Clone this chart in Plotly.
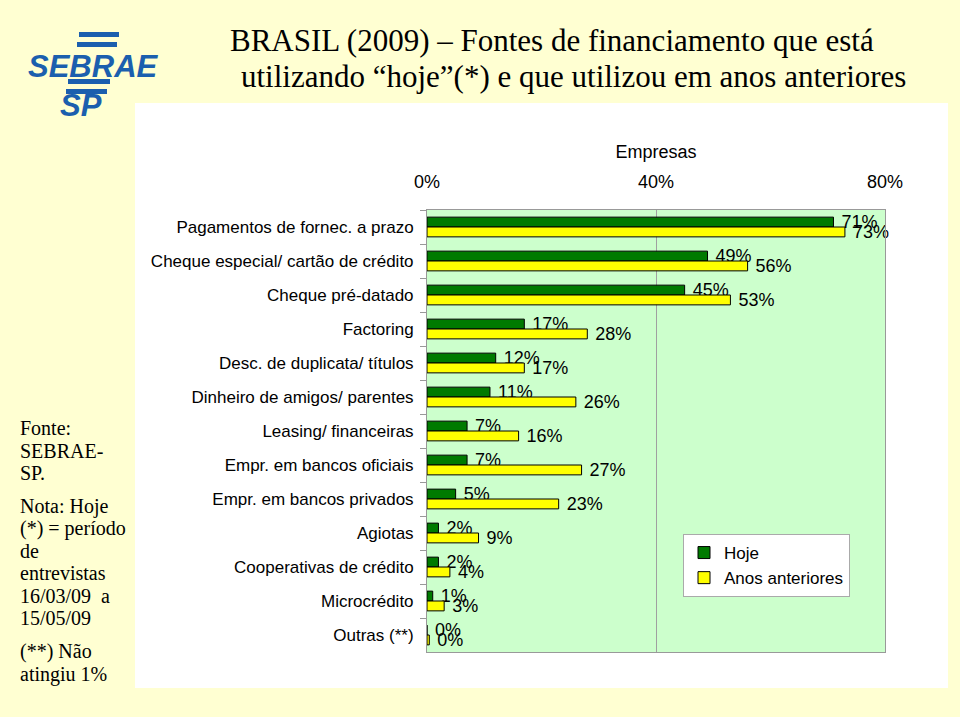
import plotly.graph_objects as go

categories = [
    "Pagamentos de fornec. a prazo",
    "Cheque especial/ cartão de crédito",
    "Cheque pré-datado",
    "Factoring",
    "Desc. de duplicata/ títulos",
    "Dinheiro de amigos/ parentes",
    "Leasing/ financeiras",
    "Empr. em bancos oficiais",
    "Empr. em bancos privados",
    "Agiotas",
    "Cooperativas de crédito",
    "Microcrédito",
    "Outras (**)",
]
hoje = [71, 49, 45, 17, 12, 11, 7, 7, 5, 2, 2, 1, 0]
anteriores = [73, 56, 53, 28, 17, 26, 16, 27, 23, 9, 4, 3, 0.4]
x_tickvals = [0, 40, 80]
x_ticktext = ["0%", "40%", "80%"]

title_lines = [
    "BRASIL (2009) – Fontes de financiamento que está",
    "utilizando “hoje”(*) e que utilizou em anos anteriores",
]
note_lines = [
    "Fonte:", "SEBRAE-", "SP.", "Nota: Hoje", "(*) = período", "de",
    "entrevistas", "16/03/09  a", "15/05/09", "(**) Não", "atingiu 1%",
]

W, H = 960, 717
L, R, T, B = 427, 885, 210, 652

def px(x):
    return (x - L) / (R - L)

def py(y):
    return (B - y) / (B - T)

SANS = "Liberation Sans, Arial, sans-serif"
SERIF = "Liberation Serif, Times New Roman, serif"
BLUE = "#1B5FAE"

fig = go.Figure()
fig.add_trace(go.Bar(
    name="Hoje", y=categories, x=hoje, orientation="h",
    marker=dict(color="#007A00", line=dict(color="#000000", width=1)),
    texttemplate=" %{x:.0f}%", textposition="outside", constraintext="none",
    cliponaxis=False, textfont=dict(family=SANS, size=18, color="#000000"),
))
fig.add_trace(go.Bar(
    name="Anos anteriores", y=categories, x=anteriores, orientation="h",
    marker=dict(color="#FFFF00", line=dict(color="#000000", width=1)),
    texttemplate=" %{x:.0f}%", textposition="outside", constraintext="none",
    cliponaxis=False, textfont=dict(family=SANS, size=18, color="#000000"),
))

shapes = [
    # white panel
    dict(type="rect", xref="paper", yref="paper", x0=px(135), x1=px(948),
         y0=py(688), y1=py(103), fillcolor="#FFFFFF", line=dict(width=0), layer="below"),
    # plot background
    dict(type="rect", xref="paper", yref="paper", x0=0, x1=1, y0=0, y1=1,
         fillcolor="#CCFFCC", line=dict(width=0), layer="below"),
    # logo stripes
    dict(type="rect", xref="paper", yref="paper", x0=px(79), x1=px(119),
         y0=py(37), y1=py(32), fillcolor=BLUE, line=dict(width=0)),
    dict(type="rect", xref="paper", yref="paper", x0=px(77), x1=px(117),
         y0=py(47), y1=py(42), fillcolor=BLUE, line=dict(width=0)),
    dict(type="rect", xref="paper", yref="paper", x0=px(68), x1=px(110),
         y0=py(84), y1=py(79), fillcolor=BLUE, line=dict(width=0)),
    dict(type="rect", xref="paper", yref="paper", x0=px(66), x1=px(107),
         y0=py(94), y1=py(89), fillcolor=BLUE, line=dict(width=0)),
]

annotations = []
title_cx = [552, 573]
for i, line in enumerate(title_lines):
    annotations.append(dict(
        text=line, xref="paper", yref="paper", x=px(title_cx[i]), y=py(40 + 37 * i),
        xanchor="center", yanchor="middle", showarrow=False,
        font=dict(family=SERIF, size=31, color="#000000")))
annotations.append(dict(
    text="<b><i>SEBRAE</i></b>", xref="paper", yref="paper", x=px(93), y=py(66),
    xanchor="center", yanchor="middle", showarrow=False,
    font=dict(family=SANS, size=31, color=BLUE)))
annotations.append(dict(
    text="<b><i>SP</i></b>", xref="paper", yref="paper", x=px(81), y=py(106),
    xanchor="center", yanchor="middle", showarrow=False,
    font=dict(family=SANS, size=31, color=BLUE)))
note_y = [428, 451, 473, 506, 528, 551, 573, 596, 618, 651, 674]
for line, yy in zip(note_lines, note_y):
    annotations.append(dict(
        text=line, xref="paper", yref="paper", x=px(18), y=py(yy),
        xanchor="left", yanchor="middle", showarrow=False,
        font=dict(family=SERIF, size=20, color="#000000")))

fig.update_layout(
    width=W, height=H,
    margin=dict(l=L, r=W - R, t=T, b=H - B, pad=0),
    paper_bgcolor="#FFFFD2",
    plot_bgcolor="rgba(0,0,0,0)",
    barmode="group", bargap=0.42, bargroupgap=0,
    showlegend=True,
    legend=dict(
        x=px(683), y=py(534), xanchor="left", yanchor="top",
        bgcolor="#FFFFFF", bordercolor="#AAAAAA", borderwidth=1,
        font=dict(family=SANS, size=17, color="#000000"),
        traceorder="normal", itemwidth=30,
    ),
    shapes=shapes,
    annotations=annotations,
    font=dict(family=SANS, size=16, color="#000000"),
)
fig.update_xaxes(
    side="top", range=[0, 80], tickvals=x_tickvals, ticktext=x_ticktext,
    tickfont=dict(family=SANS, size=18), showgrid=True, gridcolor="#A0A0A0",
    gridwidth=1, showline=True, linecolor="#999999", mirror=True,
    ticks="outside", ticklen=14, tickcolor="rgba(0,0,0,0)",
    title=dict(text="Empresas", font=dict(family=SANS, size=18), standoff=8),
    zeroline=False,
)
fig.update_yaxes(
    autorange="reversed", showline=True, linecolor="#999999", mirror=True,
    ticks="outside", tickson="boundaries", ticklen=6, tickcolor="#999999",
    tickfont=dict(family=SANS, size=17), showgrid=False, ticklabelstandoff=9,
)
fig.write_html(
    "out.html",
    config={"displayModeBar": False},
    post_script="document.body.style.margin='0';document.body.style.background='#FFFFD2';",
)
